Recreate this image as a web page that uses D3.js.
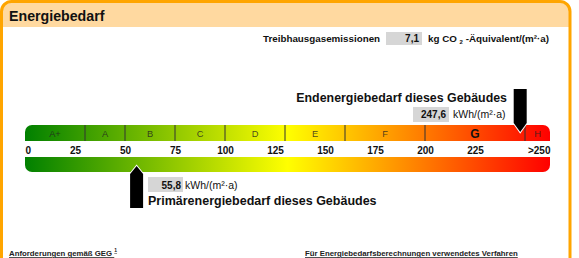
<!DOCTYPE html>
<html>
<head>
<meta charset="utf-8">
<script src="https://cdn.jsdelivr.net/npm/d3@7"></script>
<style>
  body { margin: 0; background: #fff; }
  svg { display: block; font-family: "Liberation Sans", Arial, sans-serif; }
</style>
</head>
<body>
<svg id="chart" width="579" height="258"></svg>
<script>
// energy classes and their upper limits (kWh/(m²·a))
const classes = ["A+", "A", "B", "C", "D", "E", "F", "G", "H"];
const classBounds = [0, 30, 50, 75, 100, 130, 160, 200, 250, 262.5];
const tickValues = [0, 25, 50, 75, 100, 125, 150, 175, 200, 225, 250];
const tickLabels = ["0", "25", "50", "75", "100", "125", "150", "175", "200", "225", ">250"];

// building values
const endenergie = 247.6;
const primaerenergie = 55.8;
const co2 = 7.1;
const buildingClass = "G";

const de = d3.formatLocale({ decimal: ",", thousands: ".", grouping: [3], currency: ["", " €"] });
const fmt = de.format(".1f");

const svg = d3.select("#chart");

// scale for the bar
const x = d3.scaleLinear().domain([0, 262.5]).range([25, 550]);

// gradient green -> yellow -> red
const defs = svg.append("defs");
const grad = defs.append("linearGradient")
  .attr("id", "scaleGrad")
  .attr("gradientUnits", "userSpaceOnUse")
  .attr("x1", x(0)).attr("x2", x(262.5))
  .attr("y1", 0).attr("y2", 0);
grad.append("stop").attr("offset", "0%").attr("stop-color", "#008000");
grad.append("stop").attr("offset", "50%").attr("stop-color", "#ffff00");
grad.append("stop").attr("offset", "100%").attr("stop-color", "#ff0000");

// frame with header band
const frameTop = 1.5, frameL = 1.5, frameR = 570, r = 10;
svg.append("path")
  .attr("d", `M${frameL},27 V${frameTop + r} A${r},${r} 0 0 1 ${frameL + r},${frameTop} H${frameR - r} A${r},${r} 0 0 1 ${frameR},${frameTop + r} V27 Z`)
  .attr("fill", "#ffd9a0");
svg.append("path")
  .attr("d", `M${frameL},262 V${frameTop + r} A${r},${r} 0 0 1 ${frameL + r},${frameTop} H${frameR - r} A${r},${r} 0 0 1 ${frameR},${frameTop + r} V262`)
  .attr("fill", "none")
  .attr("stroke", "#ffa500")
  .attr("stroke-width", 3);

svg.append("text")
  .attr("x", 9).attr("y", 21)
  .attr("font-size", "14.2px").attr("font-weight", "bold").attr("fill", "#111")
  .text("Energiebedarf");

// Treibhausgasemissionen line
svg.append("text")
  .attr("x", 263).attr("y", 42)
  .attr("font-size", "9.8px").attr("font-weight", "bold").attr("fill", "#111")
  .text("Treibhausgasemissionen");
svg.append("rect")
  .attr("x", 386).attr("y", 32).attr("width", 36).attr("height", 13)
  .attr("fill", "#d6d6d6");
svg.append("text")
  .attr("x", 419).attr("y", 42)
  .attr("text-anchor", "end")
  .attr("font-size", "10px").attr("font-weight", "bold").attr("fill", "#111")
  .text(fmt(co2));
const unitCo2 = svg.append("text")
  .attr("x", 428).attr("y", 42)
  .attr("font-size", "9.8px").attr("font-weight", "bold").attr("fill", "#111");
unitCo2.append("tspan").text("kg CO ");
unitCo2.append("tspan").attr("font-size", "6px").attr("dy", 2).text("2");
unitCo2.append("tspan").attr("dy", -2).text(" -Äquivalent/(m²·a)");

// rounded bar shapes
function barPath(x0, x1, y0, y1, rad, top) {
  const p = d3.path();
  if (top) {
    p.moveTo(x0, y1);
    p.lineTo(x0, y0 + rad);
    p.arcTo(x0, y0, x0 + rad, y0, rad);
    p.lineTo(x1 - rad, y0);
    p.arcTo(x1, y0, x1, y0 + rad, rad);
    p.lineTo(x1, y1);
  } else {
    p.moveTo(x0, y0);
    p.lineTo(x0, y1 - rad);
    p.arcTo(x0, y1, x0 + rad, y1, rad);
    p.lineTo(x1 - rad, y1);
    p.arcTo(x1, y1, x1, y1 - rad, rad);
    p.lineTo(x1, y0);
  }
  p.closePath();
  return p.toString();
}

const upperY0 = 125, upperY1 = 141;
const lowerY0 = 157, lowerY1 = 172;

svg.append("path")
  .attr("d", barPath(x(0), x(262.5), upperY0, upperY1, 7, true))
  .attr("fill", "url(#scaleGrad)");
svg.append("path")
  .attr("d", barPath(x(0), x(262.5), lowerY0, lowerY1, 7, false))
  .attr("fill", "url(#scaleGrad)");

// class dividers
svg.selectAll(".divider")
  .data(classBounds.slice(1, -1))
  .enter()
  .append("line")
  .attr("class", "divider")
  .attr("x1", (d) => x(d)).attr("x2", (d) => x(d))
  .attr("y1", upperY0).attr("y2", upperY1)
  .attr("stroke", "#333")
  .attr("stroke-width", 1);

// class letters
svg.selectAll(".cls")
  .data(classes)
  .enter()
  .append("text")
  .attr("class", "cls")
  .attr("x", (d, i) => (x(classBounds[i]) + x(classBounds[i + 1])) / 2)
  .attr("y", (d) => (d === buildingClass ? 138 : 137))
  .attr("text-anchor", "middle")
  .attr("font-size", (d) => (d === buildingClass ? "12px" : "9.3px"))
  .attr("font-weight", (d) => (d === buildingClass ? "bold" : "normal"))
  .attr("fill", (d) => (d === buildingClass ? "#111" : "#222"))
  .attr("fill-opacity", (d) => (d === buildingClass ? 1 : 0.8))
  .text((d) => d);

// tick labels
const axis = svg.append("g")
  .attr("transform", `translate(0,${upperY1})`)
  .call(
    d3.axisBottom(x)
      .tickValues(tickValues)
      .tickSize(0)
      .tickPadding(3)
      .tickFormat((d, i) => tickLabels[i])
  );
axis.select(".domain").remove();
axis.selectAll("text")
  .attr("font-family", "Liberation Sans, Arial, sans-serif")
  .attr("font-size", "10px")
  .attr("font-weight", "bold")
  .attr("fill", "#111")
  .attr("dy", "0.96em")
  .each(function (d, i) {
    if (i === 0) d3.select(this).attr("text-anchor", "start").attr("x", 0);
    if (i === tickValues.length - 1)
      d3.select(this).attr("text-anchor", "end").attr("x", x(262.5) - x(250));
  });

// arrows
const hw = 6.5;
function arrowDown(cx, top, shoulder, tip) {
  return `M${cx - hw},${top} H${cx + hw} V${shoulder} L${cx},${tip} L${cx - hw},${shoulder} Z`;
}
function arrowUp(cx, tip, shoulder, bottom) {
  return `M${cx - hw},${bottom} H${cx + hw} V${shoulder} L${cx},${tip} L${cx - hw},${shoulder} Z`;
}

svg.append("path")
  .attr("d", arrowDown(x(endenergie), 89, 123, 132))
  .attr("fill", "#000")
  .attr("stroke", "#fff")
  .attr("stroke-width", 2)
  .style("paint-order", "stroke");

svg.append("path")
  .attr("d", arrowUp(x(primaerenergie), 166, 174, 208))
  .attr("fill", "#000")
  .attr("stroke", "#fff")
  .attr("stroke-width", 2)
  .style("paint-order", "stroke");

// Endenergie labels
svg.append("text")
  .attr("x", 507).attr("y", 102)
  .attr("text-anchor", "end")
  .attr("font-size", "12.4px").attr("font-weight", "bold").attr("fill", "#111")
  .text("Endenergiebedarf dieses Gebäudes");
svg.append("rect")
  .attr("x", 413).attr("y", 107).attr("width", 36).attr("height", 15)
  .attr("fill", "#d6d6d6");
svg.append("text")
  .attr("x", 446).attr("y", 118)
  .attr("text-anchor", "end")
  .attr("font-size", "10px").attr("font-weight", "bold").attr("fill", "#111")
  .text(fmt(endenergie));
svg.append("text")
  .attr("x", 453).attr("y", 118)
  .attr("font-size", "10.5px").attr("fill", "#111")
  .text("kWh/(m²·a)");

// Primärenergie labels
svg.append("rect")
  .attr("x", 148).attr("y", 177).attr("width", 35).attr("height", 15)
  .attr("fill", "#d6d6d6");
svg.append("text")
  .attr("x", 181).attr("y", 189)
  .attr("text-anchor", "end")
  .attr("font-size", "10px").attr("font-weight", "bold").attr("fill", "#111")
  .text(fmt(primaerenergie));
svg.append("text")
  .attr("x", 185).attr("y", 189)
  .attr("font-size", "10.5px").attr("fill", "#111")
  .text("kWh/(m²·a)");
svg.append("text")
  .attr("x", 148).attr("y", 205)
  .attr("font-size", "12.5px").attr("font-weight", "bold").attr("fill", "#111")
  .text("Primärenergiebedarf dieses Gebäudes");

// bottom headings (cut off)
const req = svg.append("text")
  .attr("x", 9).attr("y", 256)
  .attr("font-size", "7.8px").attr("font-weight", "bold").attr("fill", "#222")
  .attr("text-decoration", "underline");
req.append("tspan").text("Anforderungen gemäß GEG ");
req.append("tspan").attr("font-size", "5px").attr("dy", -4).text("1");
svg.append("text")
  .attr("x", 305).attr("y", 256)
  .attr("font-size", "7.8px").attr("font-weight", "bold").attr("fill", "#222")
  .attr("text-decoration", "underline")
  .text("Für Energiebedarfsberechnungen verwendetes Verfahren");
</script>
</body>
</html>
